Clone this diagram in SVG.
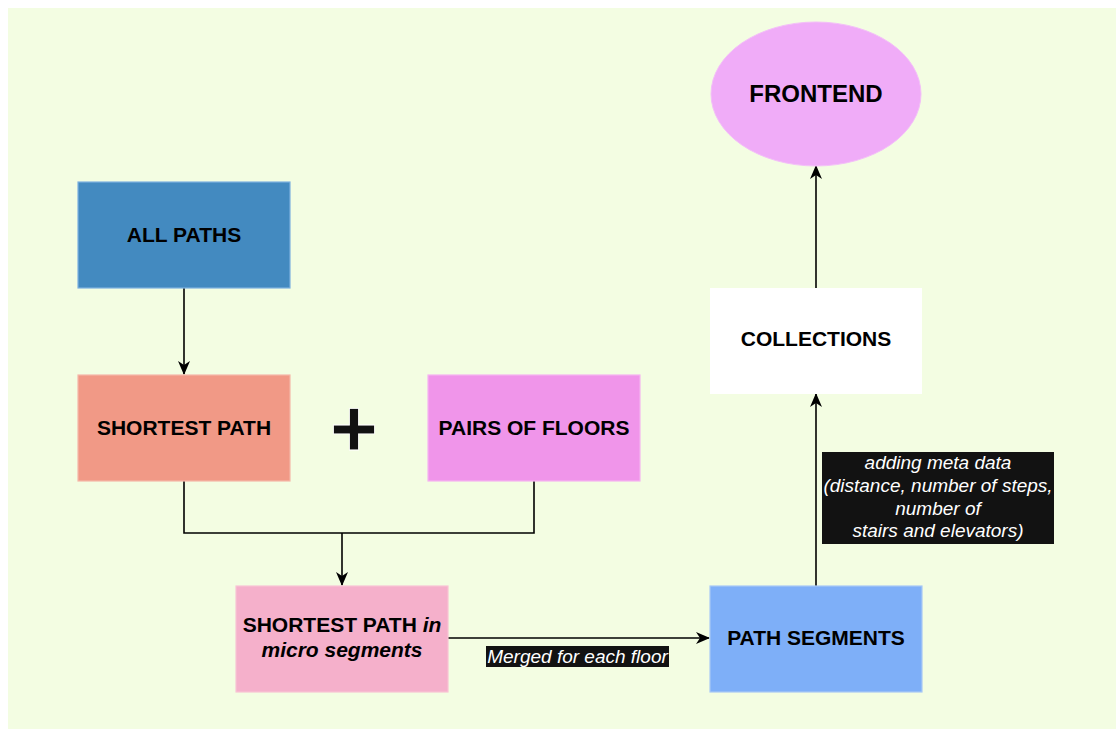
<svg xmlns="http://www.w3.org/2000/svg" width="1116" height="729" viewBox="0 0 1116 729">
  <defs>
    <marker id="arrow" viewBox="0 0 14 12" refX="13" refY="6" markerWidth="14" markerHeight="12" markerUnits="userSpaceOnUse" orient="auto">
      <path d="M0,0 L14,6 L0,12 L4,6 Z" fill="#000"/>
    </marker>
    <style>
      .lbl { font-family: "Liberation Sans", Arial, Helvetica, sans-serif; font-weight: bold; font-size: 21px; fill: #000; text-anchor: middle; }
      .big { font-size: 24px; }
      .edge { fill: none; stroke: #000; stroke-width: 1.6; }
      .elbl { font-family: "Liberation Sans", Arial, Helvetica, sans-serif; font-style: italic; font-size: 19px; fill: #fff; text-anchor: middle; }
      .elblbg { fill: #121212; }
    </style>
  </defs>

  <rect x="0" y="0" width="1116" height="729" fill="#ffffff"/>
  <rect x="8" y="8" width="1108" height="721" fill="#f3fde2"/>

  <g id="connectors">
    <path class="edge" d="M184,288 L184,374" marker-end="url(#arrow)"/>
    <path class="edge" d="M184,481 L184,533 L534,533 L534,481"/>
    <path class="edge" d="M342,533 L342,585" marker-end="url(#arrow)"/>
    <path class="edge" d="M448,638 L709,638" marker-end="url(#arrow)"/>
    <path class="edge" d="M816,586 L816,394" marker-end="url(#arrow)"/>
    <path class="edge" d="M816,288 L816,166" marker-end="url(#arrow)"/>
  </g>

  <g id="label-merged">
    <rect class="elblbg" x="486" y="646" width="183" height="21"/>
    <text class="elbl" x="577.5" y="662.5">Merged for each floor</text>
  </g>

  <g id="label-meta">
    <rect class="elblbg" x="822" y="452" width="232" height="92"/>
    <text class="elbl" x="938" y="469">adding meta data</text>
    <text class="elbl" x="938" y="491.5">(distance, number of steps,</text>
    <text class="elbl" x="938" y="514.5">number of</text>
    <text class="elbl" x="938" y="537">stairs and elevators)</text>
  </g>

  <g id="node-all-paths">
    <rect x="78" y="182" width="212" height="106" fill="#438ac0" stroke="#7db1df" stroke-width="1.2"/>
    <text class="lbl" x="184" y="242">ALL PATHS</text>
  </g>

  <g id="node-shortest-path">
    <rect x="78" y="375" width="212" height="106" fill="#f19986" stroke="#f6b7a9" stroke-width="1.2"/>
    <text class="lbl" x="184" y="435">SHORTEST PATH</text>
  </g>

  <g id="node-plus">
    <text x="354" y="456" font-family="Liberation Sans, Arial, sans-serif" font-weight="bold" font-size="82" fill="#111" stroke="#ffffff" stroke-width="0.8" text-anchor="middle">+</text>
  </g>

  <g id="node-pairs-of-floors">
    <rect x="428" y="375" width="212" height="106" fill="#f095ea" stroke="#f6b4f1" stroke-width="1.2"/>
    <text class="lbl" x="534" y="435">PAIRS OF FLOORS</text>
  </g>

  <g id="node-micro-segments">
    <rect x="236" y="586" width="212" height="106" fill="#f5b0cb" stroke="#f8c4d4" stroke-width="1.2"/>
    <text class="lbl" x="342" y="632">SHORTEST PATH <tspan font-style="italic">in</tspan></text>
    <text class="lbl" x="342" y="657" font-style="italic">micro segments</text>
  </g>

  <g id="node-path-segments">
    <rect x="710" y="586" width="212" height="106" fill="#7eaff8" stroke="#a8c9f6" stroke-width="1.2"/>
    <text class="lbl" x="816" y="645">PATH SEGMENTS</text>
  </g>

  <g id="node-collections">
    <rect x="710" y="288" width="212" height="106" fill="#ffffff"/>
    <text class="lbl" x="816" y="346">COLLECTIONS</text>
  </g>

  <g id="node-frontend">
    <ellipse cx="816" cy="94" rx="105" ry="72" fill="#f0acf8" stroke="#f3c0f8" stroke-width="1"/>
    <text class="lbl big" x="816" y="101.5">FRONTEND</text>
  </g>
</svg>
